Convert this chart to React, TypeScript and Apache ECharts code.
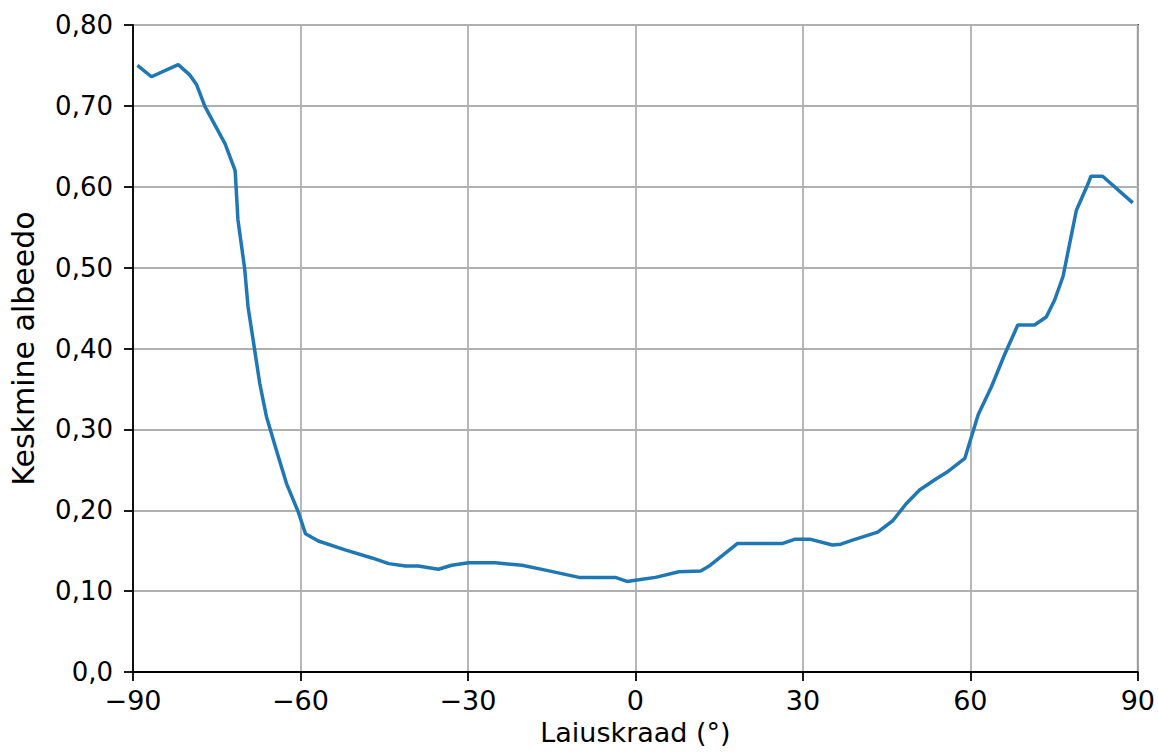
import React, { useEffect, useRef } from "react";
import * as echarts from "echarts";

const latitudes = [
  -89.2, -86.7, -81.9, -79.8, -78.6, -77.1, -73.5, -71.7, -71.2, -70.0, -69.4, -68.2, -67.3, -66.1,
  -64.3, -62.5, -60.4, -59.1, -56.8, -52.0, -47.2, -44.2, -41.2, -38.9, -35.3, -32.9, -29.9, -25.1,
  -20.3, -16.1, -10.1, -3.6, -1.5, 0.6, 3.6, 7.8, 11.7, 13.2, 18.3, 26.4, 28.5, 31.4, 35.3, 36.8,
  38.9, 43.4, 46.1, 48.5, 50.9, 53.9, 56.0, 59.0, 61.4, 63.8, 66.1, 68.5, 71.5, 73.6, 75.1, 76.6,
  77.8, 79.0, 81.1, 81.6, 83.7, 89.1,
];
const albedo = [
  0.75, 0.736, 0.751, 0.738, 0.726, 0.699, 0.653, 0.62, 0.559, 0.499, 0.452, 0.398, 0.357, 0.316,
  0.274, 0.233, 0.198, 0.171, 0.162, 0.151, 0.141, 0.134, 0.131, 0.131, 0.127, 0.132, 0.135, 0.135,
  0.132, 0.126, 0.117, 0.117, 0.112, 0.114, 0.117, 0.124, 0.125, 0.131, 0.159, 0.159, 0.164, 0.164,
  0.157, 0.158, 0.163, 0.173, 0.187, 0.208, 0.225, 0.239, 0.248, 0.264, 0.318, 0.353, 0.392, 0.429,
  0.429, 0.439, 0.46, 0.489, 0.53, 0.571, 0.604, 0.613, 0.613, 0.58,
];
const xTicks = [-90, -60, -30, 0, 30, 60, 90];
const yTicks = [0, 0.1, 0.2, 0.3, 0.4, 0.5, 0.6, 0.7, 0.8];
const xTitle = "Laiuskraad (°)";
const yTitle = "Keskmine albeedo";

export default function App() {
  const ref = useRef<HTMLDivElement>(null);
  useEffect(() => {
    if (!ref.current) return;
    const chart = echarts.init(ref.current, undefined, { renderer: "svg" });
    const font = "DejaVu Sans";
    const fs = 26;
    chart.setOption({
      animation: false,
      backgroundColor: "#ffffff",
      textStyle: { fontFamily: font },
      grid: {
        left: 132,
        right: 18,
        top: 25,
        bottom: 81,
        show: true,
        borderColor: "#000",
        borderWidth: 1.8,
        backgroundColor: "transparent",
      },
      xAxis: {
        type: "value",
        min: xTicks[0],
        max: xTicks[xTicks.length - 1],
        interval: 30,
        name: xTitle,
        nameLocation: "middle",
        nameGap: 47,
        nameTextStyle: { fontSize: 27, color: "#000", fontFamily: font },
        axisLine: { show: true, onZero: false, lineStyle: { color: "#000", width: 1.8 } },
        axisTick: { show: true, length: 9, lineStyle: { color: "#000", width: 1.8 } },
        axisLabel: {
          fontSize: 27,
          color: "#000",
          margin: 15,
          fontFamily: font,
          formatter: (v: number) => (v < 0 ? "\u2212" + Math.abs(v) : String(v)),
        },
        splitLine: { show: true, lineStyle: { color: "#b0b0b0", width: 1.8 } },
      },
      yAxis: {
        type: "value",
        min: 0,
        max: yTicks[yTicks.length - 1],
        interval: 0.1,
        name: yTitle,
        nameLocation: "middle",
        nameGap: 95,
        nameTextStyle: { fontSize: 30, color: "#000", fontFamily: font },
        axisLine: { show: true, onZero: false, lineStyle: { color: "#000", width: 1.8 } },
        axisTick: { show: true, length: 9, lineStyle: { color: "#000", width: 1.8 } },
        axisLabel: {
          fontSize: fs,
          color: "#000",
          margin: 20,
          fontFamily: font,
          formatter: (v: number) =>
            Math.abs(v) < 1e-9 ? "0,0" : v.toFixed(2).replace(".", ","),
        },
        splitLine: { show: true, lineStyle: { color: "#b0b0b0", width: 1.8 } },
      },
      series: [
        {
          type: "line",
          data: latitudes.map((x, i) => [x, albedo[i]]),
          showSymbol: false,
          lineStyle: { color: "#1f77b4", width: 3.5 },
          itemStyle: { color: "#1f77b4" },
        },
      ],
    });
    return () => chart.dispose();
  }, []);
  return (
    <div
      ref={ref}
      style={{ position: "fixed", left: 0, top: 0, width: 1158, height: 753, background: "#fff" }}
    />
  );
}
